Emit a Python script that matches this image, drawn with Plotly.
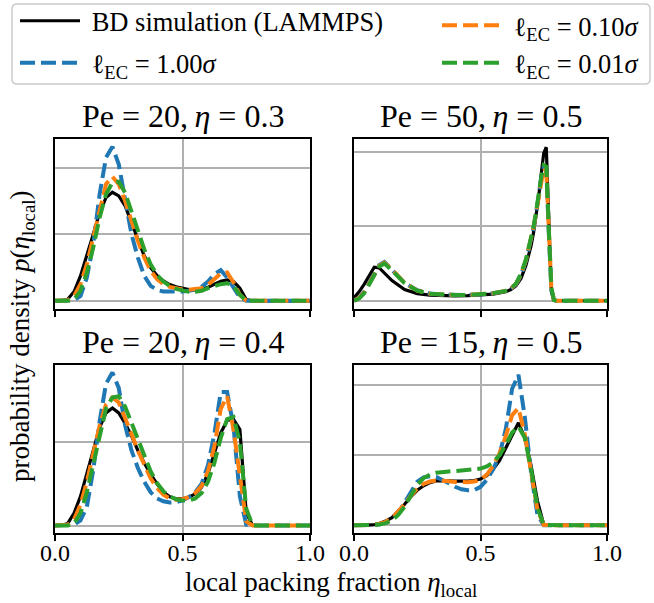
import plotly.graph_objects as go
from plotly.subplots import make_subplots

# ---------------- data ----------------
X_GRID = [0.0, 0.025, 0.05, 0.075, 0.1, 0.125, 0.15, 0.175, 0.2, 0.225,
          0.25, 0.275, 0.3, 0.325, 0.35, 0.375, 0.4, 0.425, 0.45, 0.475,
          0.5, 0.525, 0.55, 0.575, 0.6, 0.625, 0.65, 0.675, 0.7, 0.725,
          0.75, 0.775, 0.8, 0.825, 0.85, 0.875, 0.9, 0.925, 0.95, 0.975, 1.0]

TAIL9 = [0, 0, 0, 0, 0, 0, 0, 0, 0]

# Pe = 20, eta = 0.3
TL_BD = [0, 0, 0.05, 0.28, 0.75, 1.35, 2.0, 2.65, 3.1, 3.26, 3.15, 2.85, 2.35, 1.8, 1.35,
         1.0, 0.76, 0.6, 0.49, 0.42, 0.37, 0.34, 0.33, 0.35, 0.41, 0.5, 0.59, 0.63, 0.58, 0.38,
         0.04, 0] + TAIL9
TL_L100 = [0, 0, 0, 0.02, 0.15, 0.7, 1.7, 3.2, 4.3, 4.63, 4.1, 3.0, 2.0, 1.3, 0.75,
           0.45, 0.33, 0.28, 0.27, 0.27, 0.28, 0.3, 0.34, 0.42, 0.58, 0.8, 0.92, 0.7, 0.4, 0.1,
           0.0, 0] + TAIL9
TL_L010 = [0, 0, 0.02, 0.15, 0.5, 1.1, 1.9, 2.8, 3.5, 3.73, 3.5, 3.0, 2.4, 1.8, 1.3,
           0.9, 0.65, 0.5, 0.42, 0.37, 0.34, 0.33, 0.34, 0.38, 0.48, 0.65, 0.82, 0.85, 0.55, 0.18,
           0.01, 0] + TAIL9
TL_L001 = [0, 0, 0, 0.05, 0.3, 0.85, 1.6, 2.5, 3.2, 3.55, 3.58, 3.25, 2.7, 2.1, 1.55,
           1.1, 0.78, 0.58, 0.45, 0.36, 0.3, 0.27, 0.27, 0.3, 0.38, 0.45, 0.5, 0.53, 0.45, 0.18,
           0.01, 0] + TAIL9

# Pe = 50, eta = 0.5 (finer sampling around the sharp peak)
TR_X = [0, 0.02, 0.04, 0.06, 0.08, 0.1, 0.12, 0.15, 0.2, 0.25, 0.3, 0.35, 0.4, 0.45, 0.5,
        0.55, 0.6, 0.62, 0.64, 0.66, 0.68, 0.7, 0.71, 0.72, 0.73, 0.74, 0.75, 0.76, 0.77,
        0.78, 0.79, 0.8, 0.85, 0.9, 0.95, 1.0]
TR_BD = [0.2, 0.6, 1.1, 1.7, 2.25, 2.2, 1.85, 1.35, 0.75, 0.48, 0.38, 0.34, 0.33, 0.35, 0.38,
         0.45, 0.6, 0.75, 1.0, 1.5, 2.4, 3.7, 4.6, 5.7, 7.0, 8.5, 9.9, 10.3, 5.0,
         0.6, 0.05, 0, 0, 0, 0, 0]
TR_L100 = [0, 0.2, 0.6, 1.2, 1.8, 2.4, 2.6, 2.1, 1.2, 0.7, 0.48, 0.4, 0.38, 0.39, 0.42,
           0.5, 0.65, 0.8, 1.1, 1.7, 2.7, 4.0, 4.9, 5.9, 7.1, 8.2, 9.0, 8.8, 4.5,
           0.8, 0.05, 0, 0, 0, 0, 0]
TR_L010 = [0, 0.2, 0.55, 1.15, 1.75, 2.35, 2.55, 2.1, 1.2, 0.68, 0.47, 0.4, 0.38, 0.39, 0.42,
           0.5, 0.66, 0.82, 1.12, 1.75, 2.75, 4.05, 4.95, 5.9, 7.0, 8.1, 8.9, 8.7, 4.6,
           0.9, 0.05, 0, 0, 0, 0, 0]
TR_L001 = [0, 0.15, 0.5, 1.1, 1.7, 2.3, 2.5, 2.05, 1.18, 0.68, 0.47, 0.4, 0.38, 0.39, 0.42,
           0.5, 0.66, 0.82, 1.15, 1.8, 2.8, 4.1, 5.0, 6.0, 7.2, 8.3, 9.1, 9.0, 4.8,
           0.9, 0.05, 0, 0, 0, 0, 0]

# Pe = 20, eta = 0.4
BL_BD = [0, 0, 0.05, 0.3, 0.7, 1.25, 1.82, 2.35, 2.7, 2.82, 2.7, 2.45, 2.15, 1.8, 1.5,
         1.23, 1.0, 0.8, 0.69, 0.64, 0.64, 0.68, 0.76, 0.92, 1.25, 1.75, 2.22, 2.52, 2.55, 2.3,
         0.3, 0] + TAIL9
BL_L100 = [0, 0, 0, 0.02, 0.12, 0.45, 1.33, 2.5, 3.4, 3.67, 3.3, 2.4, 1.8, 1.38, 1.05,
           0.8, 0.65, 0.58, 0.55, 0.56, 0.6, 0.68, 0.8, 1.0, 1.45, 2.2, 3.2, 3.2, 2.38, 0.7,
           0.02, 0] + TAIL9
BL_L010 = [0, 0, 0.02, 0.15, 0.5, 1.05, 1.7, 2.4, 2.9, 3.07, 2.95, 2.6, 2.2, 1.8, 1.45,
           1.13, 0.9, 0.74, 0.65, 0.62, 0.63, 0.68, 0.78, 0.95, 1.3, 1.9, 2.8, 3.1, 2.3, 1.2,
           0.1, 0] + TAIL9
BL_L001 = [0, 0, 0, 0.05, 0.3, 0.8, 1.45, 2.2, 2.8, 3.07, 3.1, 2.85, 2.45, 2.05, 1.65,
           1.3, 1.02, 0.82, 0.7, 0.63, 0.6, 0.6, 0.65, 0.78, 1.05, 1.5, 2.1, 2.55, 2.6, 2.0,
           0.4, 0] + TAIL9

# Pe = 15, eta = 0.5
BR_BD = [0, 0, 0, 0.01, 0.05, 0.12, 0.22, 0.4, 0.6, 0.82, 1.0, 1.13, 1.22, 1.27, 1.28,
         1.27, 1.26, 1.25, 1.26, 1.28, 1.32, 1.42, 1.6, 1.85, 2.2, 2.55, 2.93, 2.5, 1.7, 0.7,
         0.02, 0] + TAIL9
BR_L100 = [0, 0, 0, 0, 0.02, 0.08, 0.16, 0.35, 0.65, 1.0, 1.25, 1.37, 1.4, 1.38, 1.3,
           1.2, 1.1, 1.03, 1.0, 1.0, 1.1, 1.3, 1.6, 2.0, 2.75, 3.9, 4.3, 3.1, 1.5, 0.3,
           0, 0] + TAIL9
BR_L010 = [0, 0, 0, 0.01, 0.04, 0.1, 0.2, 0.38, 0.6, 0.85, 1.05, 1.18, 1.25, 1.28, 1.28,
           1.26, 1.24, 1.23, 1.23, 1.25, 1.3, 1.45, 1.7, 2.05, 2.55, 3.15, 3.35, 2.6, 1.5, 0.45,
           0.01, 0] + TAIL9
BR_L001 = [0, 0, 0, 0, 0.02, 0.06, 0.14, 0.3, 0.53, 0.85, 1.15, 1.35, 1.45, 1.5, 1.53,
           1.54, 1.55, 1.56, 1.58, 1.6, 1.62, 1.68, 1.8, 2.0, 2.3, 2.65, 2.82, 2.5, 1.6, 0.5,
           0.01, 0] + TAIL9

PANEL_TITLES = ["Pe = 20,\u2009<i>η</i> = 0.3", "Pe = 50,\u2009<i>η</i> = 0.5",
                "Pe = 20,\u2009<i>η</i> = 0.4", "Pe = 15,\u2009<i>η</i> = 0.5"]
SERIES_NAMES = ["\u2005BD simulation (LAMMPS)",
                "\u2005ℓ<sub>EC</sub> = 1.00<i>σ</i>",
                "\u2005ℓ<sub>EC</sub> = 0.10<i>σ</i>",
                "\u2005ℓ<sub>EC</sub> = 0.01<i>σ</i>"]
X_TICKS = [0.0, 0.5, 1.0]
X_TICK_TEXT = ["0.0", "0.5", "1.0"]

# ---------------- figure ----------------
W, H = 654, 603
FONT = "Liberation Serif"

def px(x):
    return x / W

def py(y):
    return 1 - y / H

fig = make_subplots(rows=2, cols=2)

panels = [
    (1, 1, X_GRID, [TL_BD, TL_L100, TL_L010, TL_L001]),
    (1, 2, TR_X, [TR_BD, TR_L100, TR_L010, TR_L001]),
    (2, 1, X_GRID, [BL_BD, BL_L100, BL_L010, BL_L001]),
    (2, 2, X_GRID, [BR_BD, BR_L100, BR_L010, BR_L001]),
]
colors = ["black", "#1f77b4", "#ff7f0e", "#2ca02c"]
widths = [3.2, 4, 4, 4]
dashes = ["solid", "15px,6px", "15px,6px", "15px,6px"]
legend_ids = ["legend", "legend2", "legend3", "legend4"]

for k, (r, c, xs, series) in enumerate(panels):
    for i, ys in enumerate(series):
        fig.add_trace(go.Scatter(
            x=xs, y=ys, mode="lines",
            line=dict(color=colors[i], width=widths[i], dash=dashes[i]),
            name=SERIES_NAMES[i], showlegend=(k == 0), legend=legend_ids[i],
            hoverinfo="skip"), row=r, col=c)

xdom_left = [px(55), px(310)]
xdom_right = [px(354), px(607)]
ydom_top = [py(308.5), py(139)]
ydom_bot = [py(533), py(365)]
yranges = [[-0.23, 4.86], [-0.52, 10.85], [-0.18, 3.85], [-0.22, 4.58]]
ydticks = [2, 5, 2, 2]
xdoms = [xdom_left, xdom_right, xdom_left, xdom_right]
ydoms = [ydom_top, ydom_top, ydom_bot, ydom_bot]

for k in range(4):
    sfx = "" if k == 0 else str(k + 1)
    bottom = k >= 2
    fig.layout["xaxis" + sfx].update(
        domain=xdoms[k], range=[0, 1], tickvals=X_TICKS, ticktext=X_TICK_TEXT,
        showticklabels=bottom, ticks="outside", ticklen=6, tickwidth=1.5, tickcolor="black",
        showline=True, mirror=True, linecolor="black", linewidth=2,
        showgrid=True, gridcolor="#b0b0b0", gridwidth=1.5, zeroline=False,
        ticklabelstandoff=-9,
        tickfont=dict(family=FONT, size=24, color="black"), automargin=False)
    fig.layout["yaxis" + sfx].update(
        domain=ydoms[k], range=yranges[k], dtick=ydticks[k], tick0=0,
        showticklabels=False, ticks="",
        showline=True, mirror=True, linecolor="black", linewidth=2,
        showgrid=True, gridcolor="#b0b0b0", gridwidth=1.5, zeroline=False, automargin=False)

# panel titles
title_pos = [((55 + 310) / 2, 116), ((354 + 607) / 2, 116),
             ((55 + 310) / 2, 342), ((354 + 607) / 2, 342)]
annotations = []
for k, (tx, ty) in enumerate(title_pos):
    annotations.append(dict(text=PANEL_TITLES[k], x=px(tx), y=py(ty), xref="paper", yref="paper",
                            xanchor="center", yanchor="middle", showarrow=False,
                            font=dict(family=FONT, size=32, color="black")))
# axis labels
annotations.append(dict(text="local packing fraction <i>η</i><sub>local</sub>",
                        x=px(331), y=py(584), xref="paper", yref="paper",
                        xanchor="center", yanchor="middle", showarrow=False,
                        font=dict(family=FONT, size=27, color="black")))
annotations.append(dict(text="probability density <i>p</i>(<i>η</i><sub>local</sub>)",
                        x=px(22), y=py(336), xref="paper", yref="paper", textangle=-90,
                        xanchor="center", yanchor="middle", showarrow=False,
                        font=dict(family=FONT, size=27, color="black")))

# legend frame (rounded rectangle)
x0, x1, y0, y1, rr = 12, 650, 4, 84, 5
def P(a, b):
    return f"{px(a):.5f},{py(b):.5f}"
frame_path = (f"M{P(x0 + rr, y0)} L{P(x1 - rr, y0)} Q{P(x1, y0)} {P(x1, y0 + rr)} "
              f"L{P(x1, y1 - rr)} Q{P(x1, y1)} {P(x1 - rr, y1)} L{P(x0 + rr, y1)} "
              f"Q{P(x0, y1)} {P(x0, y1 - rr)} L{P(x0, y0 + rr)} Q{P(x0, y0)} {P(x0 + rr, y0)} Z")

fig.update_layout(
    width=W, height=H, margin=dict(l=0, r=0, t=0, b=0, autoexpand=False),
    paper_bgcolor="white", plot_bgcolor="white",
    annotations=annotations,
    shapes=[dict(type="path", path=frame_path, xref="paper", yref="paper",
                 line=dict(color="#cccccc", width=1.5), fillcolor="white", layer="below")],
)

leg_common = dict(bgcolor="rgba(0,0,0,0)", borderwidth=0, itemwidth=60,
                  font=dict(family=FONT, size=26.5, color="black"),
                  xanchor="left", yanchor="middle", orientation="v")
leg_pos = {"legend": (15, 21), "legend2": (15, 63), "legend3": (437, 25.5), "legend4": (437, 63)}
for lid, (lx, ly) in leg_pos.items():
    fig.layout[lid] = dict(leg_common, x=px(lx), y=py(ly))

fig.write_html("out.html", config={"displayModeBar": False},
               post_script="document.body.style.margin='0';document.body.style.padding='0';")
